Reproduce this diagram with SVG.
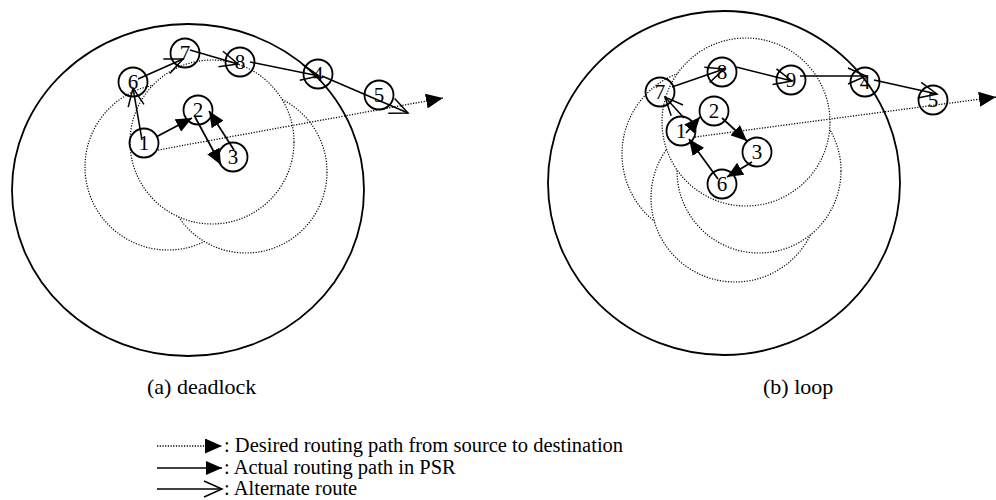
<svg xmlns="http://www.w3.org/2000/svg" width="996" height="500" viewBox="0 0 996 500">
<style>
.big{fill:none;stroke:#000;stroke-width:1.8}
.range{fill:#fff;stroke:#000;stroke-width:1.2;stroke-dasharray:1.2 1.5}
.node circle{fill:none;stroke:#000;stroke-width:1.8}
.node text{font-family:"Liberation Serif","Times New Roman",serif;font-size:21px;text-anchor:middle;fill:#000}
.desired{fill:none;stroke:#000;stroke-width:1.3;stroke-dasharray:1.2 1.5;marker-end:url(#triBig)}
.actual{stroke:#000;stroke-width:1.7;marker-end:url(#tri)}
.alt{stroke:#000;stroke-width:1.5;marker-end:url(#chev)}
.cap{font-family:"Liberation Serif","Times New Roman",serif;font-size:22px;fill:#000}
.leg{font-family:"Liberation Serif","Times New Roman",serif;font-size:20.5px;fill:#000}
</style>
<defs>
<marker id="tri" viewBox="0 0 16 14" refX="16" refY="7" markerWidth="16" markerHeight="14" orient="auto" markerUnits="userSpaceOnUse"><path d="M0,0 L16,7 L0,14 z" fill="#000"/></marker>
<marker id="triBig" viewBox="0 0 17 15" refX="17" refY="7.5" markerWidth="17" markerHeight="15" orient="auto" markerUnits="userSpaceOnUse"><path d="M0,0 L17,7.5 L0,15 z" fill="#000"/></marker>
<marker id="chev" viewBox="-2 -2 22 20" refX="18" refY="8" markerWidth="22" markerHeight="20" orient="auto" markerUnits="userSpaceOnUse"><path d="M0,0 L18,8 L0,16" fill="none" stroke="#000" stroke-width="1.5"/></marker>
</defs>

<!-- (a) deadlock -->
<g id="panel-a">
<ellipse class="big" cx="188" cy="190" rx="176" ry="166"/>
<circle class="range" cx="168" cy="167" r="83"/>
<circle class="range" cx="246" cy="172" r="81"/>
<circle class="range" cx="212" cy="142" r="82"/>
</g>
<g id="connectors-a">
<line class="desired" x1="158" y1="150" x2="443" y2="98"/>
<line class="actual" x1="156" y1="137" x2="192" y2="118"/>
<line class="actual" x1="195" y1="117" x2="221" y2="165"/>
<line class="actual" x1="234" y1="150" x2="209" y2="111"/>
<line class="alt" x1="142" y1="140" x2="133" y2="88"/>
<line class="alt" x1="138" y1="79" x2="183" y2="59"/>
<line class="alt" x1="190" y1="50" x2="238" y2="64"/>
<line class="alt" x1="250" y1="62" x2="319" y2="76"/>
<line class="alt" x1="322" y1="76" x2="408" y2="113"/>
</g>
<g id="a-n1" class="node"><circle cx="144" cy="143" r="14.5"/><text x="144" y="150">1</text></g>
<g id="a-n2" class="node"><circle cx="198" cy="110" r="14.5"/><text x="198" y="117">2</text></g>
<g id="a-n3" class="node"><circle cx="233" cy="157" r="14.5"/><text x="233" y="164">3</text></g>
<g id="a-n4" class="node"><circle cx="318" cy="74" r="14.5"/><text x="318" y="81">4</text></g>
<g id="a-n5" class="node"><circle cx="379" cy="95" r="14.5"/><text x="379" y="102">5</text></g>
<g id="a-n6" class="node"><circle cx="133" cy="82" r="14.5"/><text x="133" y="89">6</text></g>
<g id="a-n7" class="node"><circle cx="185" cy="53" r="14.5"/><text x="185" y="60">7</text></g>
<g id="a-n8" class="node"><circle cx="240" cy="62" r="14.5"/><text x="240" y="69">8</text></g>

<!-- (b) loop -->
<g id="panel-b">
<ellipse class="big" cx="724" cy="183" rx="176" ry="172"/>
<circle class="range" cx="708" cy="154" r="86"/>
<circle class="range" cx="735" cy="198" r="84"/>
<circle class="range" cx="759" cy="171" r="82"/>
<circle class="range" cx="746" cy="122" r="84"/>
</g>
<g id="connectors-b">
<line class="desired" x1="695" y1="137" x2="996" y2="97"/>
<line class="actual" x1="686" y1="133" x2="700" y2="117"/>
<line class="actual" x1="722" y1="118" x2="747" y2="141"/>
<line class="actual" x1="752" y1="162" x2="727" y2="177"/>
<line class="actual" x1="718" y1="179" x2="689" y2="139"/>
<line class="alt" x1="684" y1="118" x2="665" y2="97"/>
<line class="alt" x1="672" y1="87" x2="724" y2="69"/>
<line class="alt" x1="736" y1="67" x2="792" y2="81"/>
<line class="alt" x1="800" y1="76" x2="866" y2="76"/>
<line class="alt" x1="874" y1="80" x2="937" y2="94"/>
</g>
<g id="b-n1" class="node"><circle cx="681" cy="131" r="14.5"/><text x="681" y="138">1</text></g>
<g id="b-n2" class="node"><circle cx="714" cy="111" r="14.5"/><text x="714" y="118">2</text></g>
<g id="b-n3" class="node"><circle cx="757" cy="152" r="14.5"/><text x="757" y="159">3</text></g>
<g id="b-n4" class="node"><circle cx="865" cy="82" r="14.5"/><text x="865" y="89">4</text></g>
<g id="b-n5" class="node"><circle cx="933" cy="100" r="14.5"/><text x="933" y="107">5</text></g>
<g id="b-n6" class="node"><circle cx="722" cy="184" r="14.5"/><text x="722" y="191">6</text></g>
<g id="b-n7" class="node"><circle cx="660" cy="92" r="14.5"/><text x="660" y="99">7</text></g>
<g id="b-n8" class="node"><circle cx="722" cy="72" r="14.5"/><text x="722" y="79">8</text></g>
<g id="b-n9" class="node"><circle cx="791" cy="80" r="14.5"/><text x="791" y="87">9</text></g>

<!-- captions -->
<text class="cap" x="147" y="394">(a) deadlock</text>
<text class="cap" x="763" y="394">(b) loop</text>

<!-- legend -->
<g id="legend">
<line class="desired" x1="157" y1="446" x2="222" y2="446"/>
<text class="leg" x="224" y="452">: Desired routing path from source to destination</text>
<line class="actual" x1="157" y1="468" x2="222" y2="468"/>
<text class="leg" x="224" y="474">: Actual routing path in PSR</text>
<line class="alt" x1="157" y1="489" x2="222" y2="489"/>
<text class="leg" x="224" y="495">: Alternate route</text>
</g>
</svg>
